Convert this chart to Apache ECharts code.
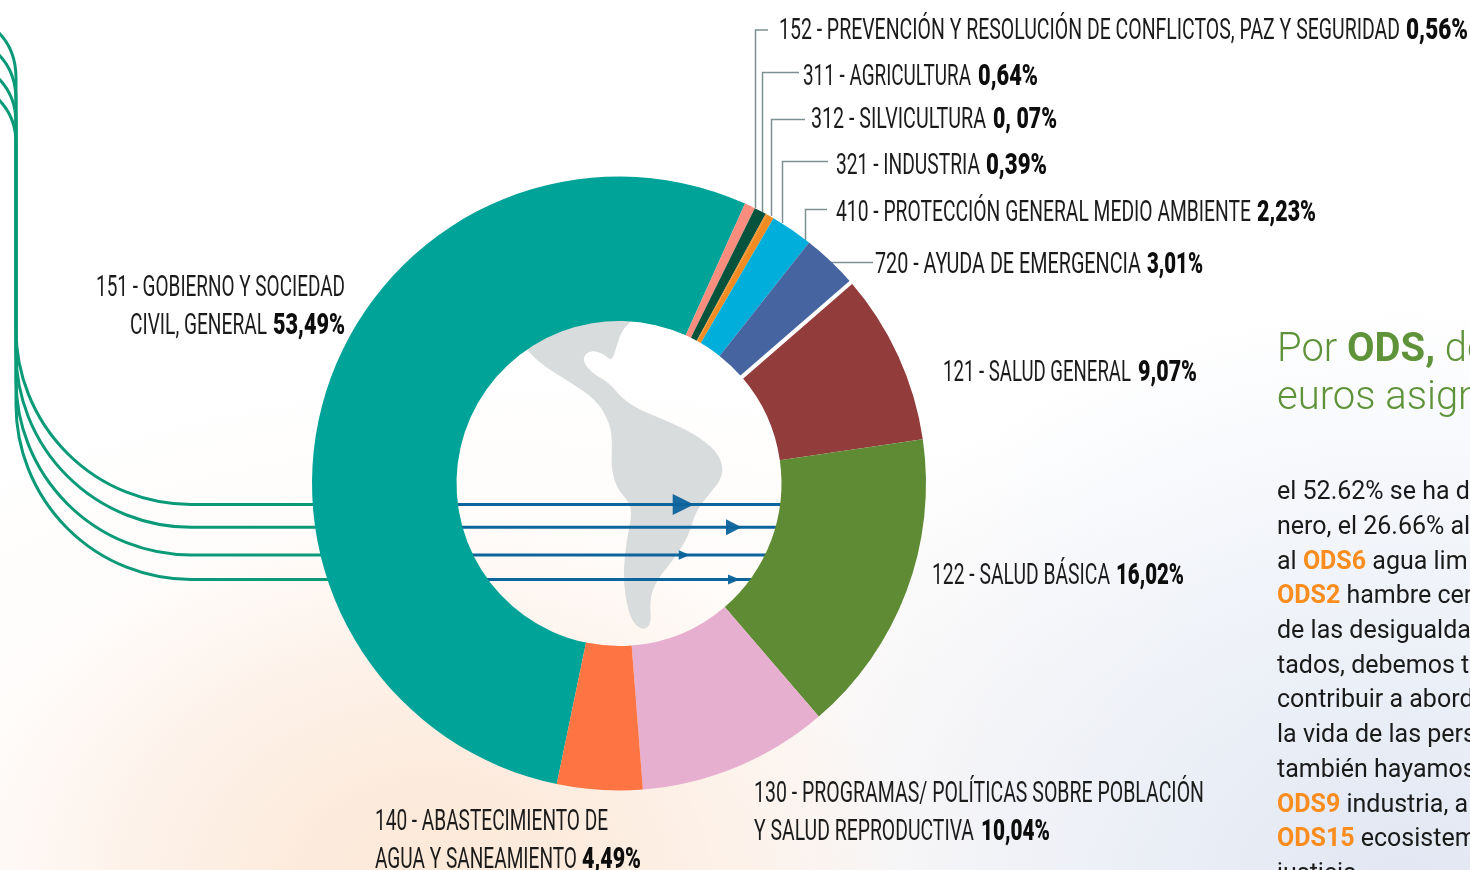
<!DOCTYPE html>
<html>
<head>
<meta charset="utf-8">
<style>
html,body{margin:0;padding:0;width:1470px;height:870px;overflow:hidden;background:#fff}
#bg{position:absolute;left:0;top:0;width:1470px;height:870px;
background:
 radial-gradient(ellipse 470px 360px at 430px 880px, rgba(252,232,214,1) 0%, rgba(252,234,220,.75) 45%, rgba(253,240,232,0) 100%),
 radial-gradient(ellipse 680px 600px at 1400px 900px, rgba(224,230,242,1) 0%, rgba(230,235,245,.65) 50%, rgba(240,243,250,0) 100%),
 radial-gradient(ellipse 900px 520px at 500px 870px, rgba(253,244,238,.8) 0%, rgba(255,255,255,0) 100%),
 #fff;}
#chart{position:absolute;left:0;top:0;width:1470px;height:870px}
</style>
</head>
<body>
<div id="bg"></div>
<div id="chart"></div>
<script src="https://cdn.jsdelivr.net/npm/echarts@6/dist/echarts.min.js"></script>
<script>
// ---- data ----
const categories = ['151 Gobierno y sociedad civil','152 Prevención','311 Agricultura','312 Silvicultura','321 Industria','410 Protección medio ambiente','720 Ayuda de emergencia','121 Salud general','122 Salud básica','130 Programas población','140 Abastecimiento agua'];
const values = [53.49,0.56,0.64,0.07,0.39,2.23,3.01,9.07,16.02,10.04,4.49];
const colors = ['#00a398','#fb8d7e','#05533c','#f28c22','#f28c22','#00aedb','#4664a0','#933c3c','#5e8b34','#e6aecf','#fe7443'];

// ---- label lines: text, left/right x, baseline ----
const labelLines = [
 ['152 - PREVENCIÓN Y RESOLUCIÓN DE CONFLICTOS, PAZ Y SEGURIDAD',779,1400,'0,56%',1406,1468,39],
 ['311 - AGRICULTURA',803,971,'0,64%',978,1038,85],
 ['312 - SILVICULTURA',811,986,'0, 07%',993,1057,128],
 ['321 - INDUSTRIA',836,980,'0,39%',986,1047,174],
 ['410 - PROTECCIÓN GENERAL MEDIO AMBIENTE',836,1251,'2,23%',1257,1316,221],
 ['720 - AYUDA DE EMERGENCIA',875,1141,'3,01%',1147,1203,273],
 ['121 - SALUD GENERAL',943,1131,'9,07%',1138,1197,381],
 ['122 - SALUD BÁSICA',932,1110,'16,02%',1116,1184,584],
 ['130 - PROGRAMAS/ POLÍTICAS SOBRE POBLACIÓN',754,1204,'',0,0,802],
 ['Y SALUD REPRODUCTIVA',754,974,'10,04%',981,1050,840],
 ['140 - ABASTECIMIENTO DE',375,608,'',0,0,830],
 ['AGUA Y SANEAMIENTO',375,577,'4,49%',582,641,868],
 ['151 - GOBIERNO Y SOCIEDAD',96,345,'',0,0,296],
 ['CIVIL, GENERAL',130,267,'53,49%',273,345,334]
];
const leaders = [
 [[768,30],[755.5,30],[755.5,208]],
 [[799,72.5],[762.5,72.5],[762.5,213]],
 [[805,119.5],[771.5,119.5],[771.5,216]],
 [[828,161.5],[782.5,161.5],[782.5,223]],
 [[827,209.5],[805.5,209.5],[805.5,240]],
 [[873,262.5],[827,262.5]]
];
const titleLines = ['{l|Por }{b|ODS,}{l| de}','{l|euros asign}'];
const titleY = [351,399];
const bodyLines = [
 '{n|el 52.62% se ha d}',
 '{n|nero, el 26.66% al}',
 '{n|al }{o|ODS6}{n| agua lim}',
 '{o|ODS2}{n| hambre cer}',
 '{n|de las desigualda}',
 '{n|tados, debemos t}',
 '{n|contribuir a abord}',
 '{n|la vida de las pers}',
 '{n|también hayamos}',
 '{o|ODS9}{n| industria, a}',
 '{o|ODS15}{n| ecosistem}',
 '{n|justicia}'
];
const bodyY = [493,528,563,597,632,667,701,736,771,806,840,875];
// flow lines: y where they cross the ring, top curve y at left edge, y where the curve joins the trunk
const flowY = [504.5,527.3,555,579.5];
const flowTop = [[34,78],[56,100],[80,123],[101,143]];
const arrows = [[672.7,694,10.5],[726,741.7,8],[678.7,690,4.7],[728,740,5]];
// continent outline
const mapPts = [[262,120],[300,160],[380,210],[470,270],[510,340],[517,400],[513,470],[530,535],[570,580],[575,620],[560,690],[550,780],[555,860],[575,935],[610,962],[635,940],[628,870],[650,810],[700,750],[745,680],[765,610],[800,560],[852,500],[840,435],[784,385],[700,340],[600,300],[545,265],[510,220],[450,185],[425,145],[450,120],[490,130],[515,155],[530,110],[545,60],[590,20],[590,-30],[250,-30],[230,90]];

// ---- geometry ----
const CX = 619, CY = 483.5, R0 = 162.5, R1 = 307, START = 258.3;

const mctx = document.createElement('canvas').getContext('2d');
function measure(t, font){ mctx.font = font; return mctx.measureText(t).width; }
const FS = 30;
const regFont = `400 ${FS}px Roboto`;
const boldFont = `900 ${FS}px Roboto`;
function condensed(text, x0, x1, base, font, fill){
  const w = measure(text, font);
  return {type:'text', x:x0, y:base-FS*0.355+3, scaleX:(x1-x0)/w, silent:true,
    style:{text, font, fill, textAlign:'left', textVerticalAlign:'middle'}};
}
const under = [];
// continent
const mp = mapPts.map(p=>[p[0]/3+440,p[1]/3+310]);
let d = '';
mp.forEach((p,i)=>{
  const n = mp[(i+1)%mp.length];
  const mx=(p[0]+n[0])/2,my=(p[1]+n[1])/2;
  if(i===0){ const l=mp[mp.length-1]; d+=`M${(l[0]+p[0])/2} ${(l[1]+p[1])/2} `; }
  d+=`Q${p[0]} ${p[1]} ${mx} ${my} `;
});
d+='Z';
under.push({type:'path',shape:{pathData:d},style:{fill:'#d9dcdc'}});
// green flow lines
flowY.forEach((y,i)=>{
  const r=175, t=flowTop[i];
  const path=`M-4 ${t[0]-4} Q16 ${t[0]+14} 16 ${t[1]} L16 ${y-r} A${r} ${r} 0 0 0 ${16+r} ${y} L340 ${y}`;
  under.push({type:'path',shape:{pathData:path},style:{fill:null,stroke:'#0a9a78',lineWidth:3}});
});
// blue chords and arrows
flowY.forEach((y,i)=>{
  under.push({type:'line',shape:{x1:440,y1:y,x2:790,y2:y},style:{stroke:'#0c659c',lineWidth:3}});
  const a=arrows[i];
  under.push({type:'polygon',shape:{points:[[a[0],y-a[2]],[a[1],y],[a[0],y+a[2]]]},style:{fill:'#0c639b',opacity:.95}});
});
const g = [];
// leaders
leaders.forEach(pts=>g.push({type:'polyline',silent:true,shape:{points:pts},style:{stroke:'#7e8f92',lineWidth:1.5,fill:null}}));
// labels
labelLines.forEach(l=>{
  g.push(condensed(l[0],l[1],l[2],l[6],regFont,'#1b1b1b'));
  if(l[3]) g.push(condensed(l[3],l[4],l[5],l[6],boldFont,'#0d0d0d'));
});
// right column
titleLines.forEach((t,i)=>g.push({type:'text',x:1277,y:titleY[i],silent:true,style:{text:t,textVerticalAlign:'middle',rich:{
  l:{font:'300 40px Roboto',fill:'#5f9339'},b:{font:'700 40px Roboto',fill:'#5f9339'}}}}));
bodyLines.forEach((t,i)=>g.push({type:'text',x:1277,y:bodyY[i],silent:true,style:{text:t,textVerticalAlign:'middle',rich:{
  n:{font:'400 25px Roboto',fill:'#1a1a1a'},o:{font:'700 25px Roboto',fill:'#fb8c1e'}}}}));
// white separator on the boundary between the 720 and 121 slices, placed from the data
const tot = values.reduce((a,b)=>a+b,0);
const before = values.slice(0,7).reduce((a,b)=>a+b,0);
const rad = (-START + before/tot*360)*Math.PI/180;
const ca=Math.cos(rad), sa=Math.sin(rad);
g.push({type:'line',silent:true,z:10,shape:{x1:CX+(R0-2)*ca,y1:CY+(R0-2)*sa,x2:CX+(R1+2)*ca,y2:CY+(R1+2)*sa},style:{stroke:'#fff',lineWidth:4}});

const chart = echarts.init(document.getElementById('chart'));
chart.setOption({
  animation:false,
  backgroundColor:'transparent',
  graphic:g,
  series:[{
    type:'custom',
    coordinateSystem:'none',
    z:1,
    silent:true,
    data:[[0]],
    renderItem:()=>({type:'group',children:under})
  },{
    type:'pie',
    z:2,
    center:[CX,CY],
    radius:[R0,R1],
    startAngle:START,
    clockwise:true,
    silent:true,
    label:{show:false},
    labelLine:{show:false},
    emphasis:{disabled:true},
    data:categories.map((c,i)=>({name:c,value:values[i],itemStyle:{color:colors[i]}}))
  }]
});
</script>
</body>
</html>
